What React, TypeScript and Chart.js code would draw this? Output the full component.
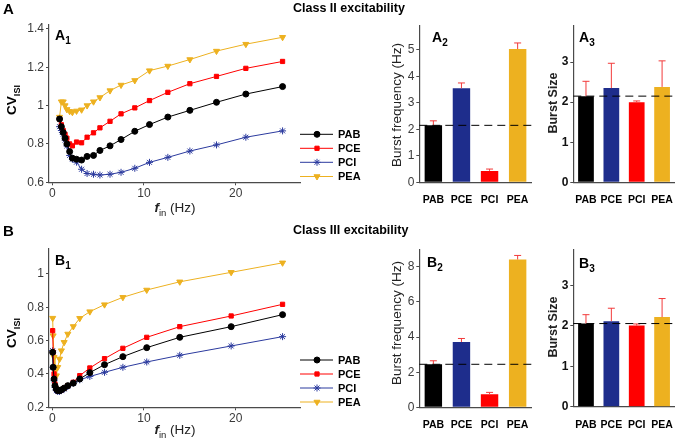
import React, { useEffect, useRef } from 'react';
import { Chart, registerables } from 'chart.js';
import { drawPoint } from 'chart.js/helpers';

Chart.register(...registerables);

const W = 685;
const H = 444;
const FONT = '"Liberation Sans", Arial, sans-serif';

// ---------- data ----------
const SERIES = ['PAB', 'PCE', 'PCI', 'PEA'];

const A1_X = [0.8, 1.0, 1.2, 1.4, 1.6, 1.9, 2.2, 2.65, 3.2, 3.8, 4.5, 5.2, 6.3, 7.5, 9.0, 10.6, 12.6, 15.0, 17.9, 21.1, 25.1];
const A1_PAB = [0.93, 0.89, 0.86, 0.83, 0.8, 0.76, 0.726, 0.72, 0.716, 0.735, 0.74, 0.766, 0.79, 0.823, 0.866, 0.901, 0.94, 0.975, 1.017, 1.06, 1.099];
const A1_PCE = [0.93, 0.9, 0.87, 0.85, 0.83, 0.8, 0.79, 0.81, 0.806, 0.835, 0.858, 0.884, 0.918, 0.957, 0.988, 1.026, 1.069, 1.114, 1.152, 1.194, 1.23];
const A1_PCI = [0.89, 0.87, 0.85, 0.82, 0.79, 0.74, 0.72, 0.705, 0.668, 0.646, 0.642, 0.638, 0.642, 0.652, 0.673, 0.704, 0.73, 0.763, 0.795, 0.835, 0.868];
const A1_PEA = [0.94, 1.02, 1.02, 1.0, 0.98, 0.97, 0.965, 0.972, 0.978, 1.0, 1.02, 1.042, 1.078, 1.107, 1.131, 1.182, 1.206, 1.24, 1.284, 1.32, 1.356];

const B1_X = [0.05, 0.1, 0.2, 0.3, 0.45, 0.6, 0.8, 1.0, 1.3, 1.7, 2.3, 3.0, 4.1, 5.7, 7.7, 10.3, 13.9, 19.5, 25.1];
const B1_PAB = [0.53, 0.44, 0.37, 0.33, 0.31, 0.3, 0.3, 0.305, 0.315, 0.33, 0.345, 0.37, 0.408, 0.456, 0.504, 0.558, 0.62, 0.684, 0.756];
const B1_PCE = [0.66, 0.53, 0.4, 0.34, 0.31, 0.3, 0.3, 0.305, 0.315, 0.33, 0.35, 0.39, 0.436, 0.492, 0.554, 0.62, 0.684, 0.748, 0.818];
const B1_PCI = [0.54, 0.44, 0.36, 0.32, 0.3, 0.295, 0.295, 0.3, 0.31, 0.325, 0.345, 0.365, 0.385, 0.41, 0.44, 0.472, 0.512, 0.568, 0.624];
const B1_PEA = [0.735, 0.63, 0.5, 0.42, 0.39, 0.44, 0.49, 0.54, 0.59, 0.64, 0.685, 0.734, 0.774, 0.816, 0.86, 0.904, 0.953, 1.01, 1.067];

const A2_VAL = [2.15, 3.55, 0.43, 5.03];
const A2_ERR = [0.17, 0.2, 0.07, 0.23];
const A3_VAL = [2.15, 2.35, 2.0, 2.38];
const A3_ERR = [0.37, 0.62, 0.03, 0.65];
const B2_VAL = [2.45, 3.72, 0.75, 8.42];
const B2_ERR = [0.2, 0.2, 0.1, 0.23];
const B3_VAL = [2.06, 2.12, 2.01, 2.22];
const B3_ERR = [0.22, 0.32, 0.04, 0.46];

const X_TICKS = [0, 10, 20];
const A1_Y_TICKS = [0.6, 0.8, 1, 1.2, 1.4];
const B1_Y_TICKS = [0.2, 0.4, 0.6, 0.8, 1];
const A2_Y_TICKS = [0, 1, 2, 3, 4, 5];
const A3_Y_TICKS = [0, 1, 2, 3];
const B2_Y_TICKS = [0, 2, 4, 6, 8];
const B3_Y_TICKS = [0, 1, 2, 3];

// ---------- styles ----------
const LINE_COLORS = ['#000000', '#ff0000', '#2b3a9e', '#edb120'];
const BAR_COLORS = ['#000000', '#1e2d8c', '#ff0000', '#edb120'];
const POINT_STYLES = ['circle', 'rect', 'star', 'triangle'];
const POINT_ROT = [0, 0, 0, 180];
const POINT_RADIUS = [3, 3, 3.5, 3.5];
const AXIS_COLOR = '#4a4a4a';
const ERR_COLOR = '#f23a3a';

type Box = { l: number; t: number; r: number; b: number };
const YW = 40;
const XH = 30;

const fmt = (v: number) => String(Math.round(v * 100) / 100);

function padding(box: Box) {
  return { left: box.l - YW, top: box.t, right: W - box.r, bottom: H - box.b - XH };
}

function yScale(min: number, max: number, ticks: number[], bold: boolean) {
  return {
    type: 'linear',
    min,
    max,
    afterFit: (s: any) => { s.width = YW; },
    afterBuildTicks: (s: any) => { s.ticks = ticks.map((v) => ({ value: v })); },
    ticks: {
      callback: (v: any) => fmt(Number(v)),
      font: { family: FONT, size: 12, weight: bold ? 'bold' : 'normal' },
      color: bold ? '#111' : '#3a3a3a',
      padding: 2,
    },
    grid: { drawOnChartArea: false, drawTicks: true, tickLength: 3, color: AXIS_COLOR },
    border: { display: true, color: AXIS_COLOR, width: 1.2 },
  };
}

function legendPlugin(rows: number[]) {
  return {
    id: 'customLegend',
    afterDraw(chart: any) {
      const ctx = chart.ctx;
      ctx.save();
      rows.forEach((y, i) => {
        ctx.strokeStyle = LINE_COLORS[i];
        ctx.fillStyle = LINE_COLORS[i];
        ctx.lineWidth = 1;
        ctx.beginPath();
        ctx.moveTo(300, y);
        ctx.lineTo(333, y);
        ctx.stroke();
        drawPoint(ctx, { pointStyle: POINT_STYLES[i], rotation: POINT_ROT[i], radius: POINT_RADIUS[i], borderWidth: 1 } as any, 317, y);
        ctx.fillStyle = '#000';
        ctx.font = `bold 11px ${FONT}`;
        ctx.textBaseline = 'middle';
        ctx.textAlign = 'left';
        ctx.fillText(SERIES[i], 338, y + 0.5);
      });
      ctx.restore();
    },
  };
}

function lineConfig(box: Box, xs: number[], ys: number[][], yMin: number, yMax: number, yTicks: number[], legendRows: number[]): any {
  return {
    type: 'line',
    data: {
      datasets: ys.map((arr, i) => ({
        label: SERIES[i],
        data: xs.map((x, k) => ({ x, y: arr[k] })),
        borderColor: LINE_COLORS[i],
        backgroundColor: LINE_COLORS[i],
        pointBackgroundColor: LINE_COLORS[i],
        pointBorderColor: LINE_COLORS[i],
        pointStyle: POINT_STYLES[i],
        pointRotation: POINT_ROT[i],
        pointRadius: POINT_RADIUS[i],
        pointBorderWidth: 1,
        borderWidth: 1,
        tension: 0,
      })),
    },
    options: {
      responsive: false,
      animation: false,
      layout: { padding: padding(box) },
      plugins: { legend: { display: false }, tooltip: { enabled: false } },
      scales: {
        x: {
          type: 'linear',
          min: -0.35,
          max: 27,
          afterFit: (s: any) => { s.height = XH; },
          afterBuildTicks: (s: any) => { s.ticks = X_TICKS.map((v) => ({ value: v })); },
          ticks: { font: { family: FONT, size: 12 }, color: '#3a3a3a', padding: 1, maxRotation: 0 },
          grid: { drawOnChartArea: false, drawTicks: true, tickLength: 3, color: AXIS_COLOR },
          border: { display: true, color: AXIS_COLOR, width: 1.2 },
        },
        y: yScale(yMin, yMax, yTicks, false),
      },
    },
    plugins: [legendPlugin(legendRows)],
  };
}

function barConfig(box: Box, vals: number[], errs: number[], yMax: number, yTicks: number[], bold: boolean): any {
  return {
    type: 'bar',
    data: {
      labels: SERIES,
      datasets: [{
        data: vals,
        backgroundColor: BAR_COLORS,
        borderWidth: 0,
        barPercentage: 0.62,
        categoryPercentage: 1,
      }],
    },
    options: {
      responsive: false,
      animation: false,
      layout: { padding: padding(box) },
      plugins: { legend: { display: false }, tooltip: { enabled: false } },
      scales: {
        x: {
          type: 'category',
          offset: true,
          afterFit: (s: any) => { s.height = XH; },
          ticks: { font: { family: FONT, size: 10.5, weight: 'bold' }, color: '#000', padding: 12, maxRotation: 0 },
          grid: { drawOnChartArea: false, drawTicks: false, color: AXIS_COLOR },
          border: { display: true, color: AXIS_COLOR, width: 1.2 },
        },
        y: yScale(0, yMax, yTicks, bold),
      },
    },
    plugins: [{
      id: 'errAndRef',
      afterDatasetsDraw(chart: any) {
        const ctx = chart.ctx;
        const xs = chart.scales.x;
        const ys = chart.scales.y;
        const area = chart.chartArea;
        ctx.save();
        ctx.strokeStyle = ERR_COLOR;
        ctx.lineWidth = 1;
        vals.forEach((v, i) => {
          const x = xs.getPixelForValue(i);
          const y0 = ys.getPixelForValue(v);
          const y1 = ys.getPixelForValue(v + errs[i]);
          ctx.beginPath();
          ctx.moveTo(x, y0);
          ctx.lineTo(x, y1);
          ctx.moveTo(x - 3.5, y1);
          ctx.lineTo(x + 3.5, y1);
          ctx.stroke();
        });
        const yr = ys.getPixelForValue(vals[0]);
        ctx.strokeStyle = '#000';
        ctx.setLineDash([8, 5]);
        ctx.beginPath();
        ctx.moveTo(area.left, yr);
        ctx.lineTo(area.right, yr);
        ctx.stroke();
        ctx.restore();
      },
    }],
  };
}

function ChartCanvas({ make }: { make: () => any }) {
  const ref = useRef<HTMLCanvasElement>(null);
  useEffect(() => {
    const c = new Chart(ref.current as HTMLCanvasElement, make());
    return () => c.destroy();
  }, []);
  return <canvas ref={ref} width={W} height={H} style={{ position: 'absolute', left: 0, top: 0, width: W, height: H }} />;
}

const abs = (left: number, top: number, extra: any = {}): any => ({
  position: 'absolute', left, top, fontFamily: FONT, lineHeight: 1, whiteSpace: 'nowrap', color: '#000', ...extra,
});

function Rot({ cx, cy, children, style }: any) {
  return (
    <div style={abs(cx, cy, { transform: 'translate(-50%, -50%) rotate(-90deg)', ...style })}>{children}</div>
  );
}

function PanelTag({ x, y, letter, n }: any) {
  return (
    <div style={abs(x, y, { fontWeight: 'bold', fontSize: 14 })}>
      {letter}<sub style={{ fontSize: 10, verticalAlign: '-4px' }}>{n}</sub>
    </div>
  );
}

function FinLabel({ y }: any) {
  return (
    <div style={abs(175, y, { transform: 'translate(-50%, -50%)', fontSize: 13.5, color: '#222' })}>
      <span style={{ fontStyle: 'italic', fontWeight: 'bold' }}>f</span>
      <sub style={{ fontSize: 9.5, verticalAlign: '-4px' }}>in</sub> (Hz)
    </div>
  );
}

function CvLabel({ cy }: any) {
  return (
    <Rot cx={13} cy={cy} style={{ fontWeight: 'bold', fontSize: 13.5 }}>
      CV<sub style={{ fontSize: 9, verticalAlign: '-4px' }}>ISI</sub>
    </Rot>
  );
}

const A1_BOX: Box = { l: 49, t: 25, r: 300, b: 182.3 };
const B1_BOX: Box = { l: 49, t: 249, r: 300, b: 407.3 };
const A2_BOX: Box = { l: 419.3, t: 26, r: 531.7, b: 182.3 };
const A3_BOX: Box = { l: 573.3, t: 26, r: 684, b: 182.3 };
const B2_BOX: Box = { l: 419.3, t: 249.3, r: 531.7, b: 407.3 };
const B3_BOX: Box = { l: 573.3, t: 249.3, r: 684, b: 406.7 };

export default function App() {
  return (
    <div style={{ position: 'absolute', left: 0, top: 0, width: W, height: H, background: '#fff', overflow: 'hidden' }}>
      <ChartCanvas make={() => lineConfig(A1_BOX, A1_X, [A1_PAB, A1_PCE, A1_PCI, A1_PEA], 0.6, 1.42, A1_Y_TICKS, [134.3, 148.3, 162.3, 176.5])} />
      <ChartCanvas make={() => lineConfig(B1_BOX, B1_X, [B1_PAB, B1_PCE, B1_PCI, B1_PEA], 0.2, 1.15, B1_Y_TICKS, [360, 374, 388, 402])} />
      <ChartCanvas make={() => barConfig(A2_BOX, A2_VAL, A2_ERR, 5.9, A2_Y_TICKS, false)} />
      <ChartCanvas make={() => barConfig(A3_BOX, A3_VAL, A3_ERR, 3.9, A3_Y_TICKS, true)} />
      <ChartCanvas make={() => barConfig(B2_BOX, B2_VAL, B2_ERR, 9, B2_Y_TICKS, false)} />
      <ChartCanvas make={() => barConfig(B3_BOX, B3_VAL, B3_ERR, 3.9, B3_Y_TICKS, true)} />

      <div style={abs(3, 1, { fontWeight: 'bold', fontSize: 15 })}>A</div>
      <div style={abs(3, 223, { fontWeight: 'bold', fontSize: 15 })}>B</div>
      <div style={abs(293, 2, { fontWeight: 'bold', fontSize: 12.5 })}>Class II excitability</div>
      <div style={abs(293, 224, { fontWeight: 'bold', fontSize: 12.5 })}>Class III excitability</div>

      <PanelTag x={55} y={28} letter="A" n="1" />
      <PanelTag x={432} y={30} letter="A" n="2" />
      <PanelTag x={579} y={30} letter="A" n="3" />
      <PanelTag x={55} y={253} letter="B" n="1" />
      <PanelTag x={427} y={255} letter="B" n="2" />
      <PanelTag x={579} y={256} letter="B" n="3" />

      <CvLabel cy={100} />
      <CvLabel cy={333} />
      <FinLabel y={209} />
      <FinLabel y={431} />

      <Rot cx={397} cy={105} style={{ fontSize: 13.5, color: '#222' }}>Burst frequency (Hz)</Rot>
      <Rot cx={397} cy={323} style={{ fontSize: 13.5, color: '#222' }}>Burst frequency (Hz)</Rot>
      <Rot cx={553} cy={103} style={{ fontSize: 12.5, fontWeight: 'bold', color: '#222' }}>Burst Size</Rot>
      <Rot cx={553} cy={327} style={{ fontSize: 12.5, fontWeight: 'bold', color: '#222' }}>Burst Size</Rot>
    </div>
  );
}
